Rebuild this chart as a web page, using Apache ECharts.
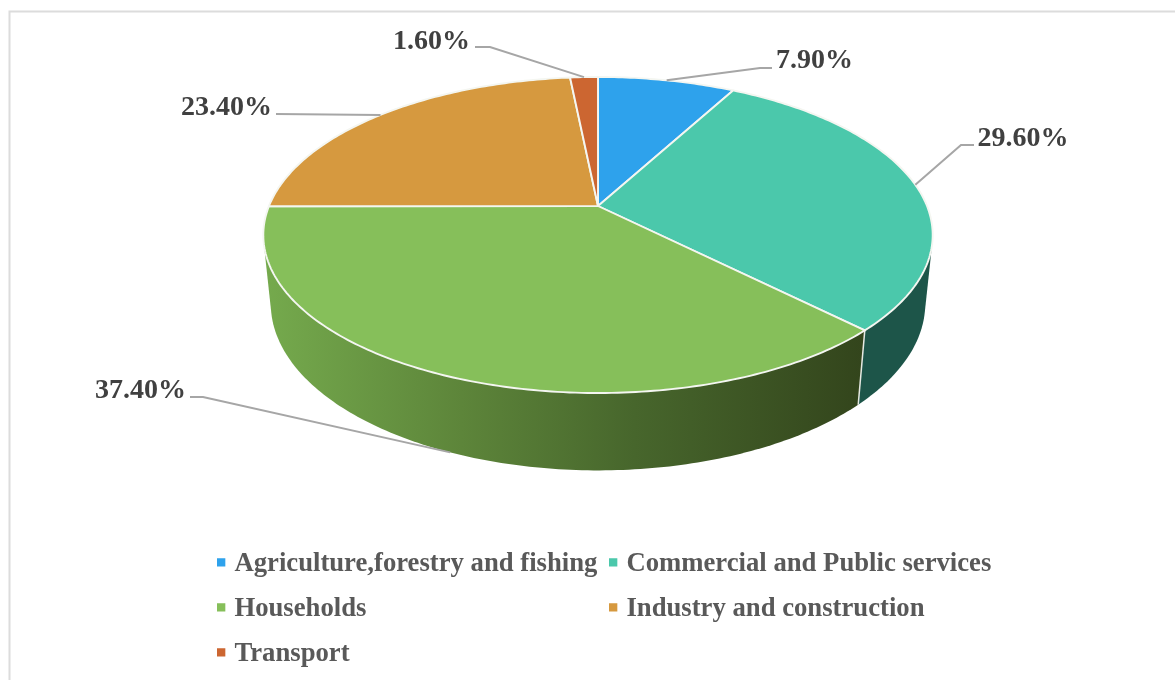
<!DOCTYPE html>
<html>
<head>
<meta charset="utf-8">
<style>html,body{margin:0;padding:0;background:#fff}#c{width:1175px;height:680px}</style>
<script src="https://cdn.jsdelivr.net/npm/echarts@6/dist/echarts.min.js"></script>
</head>
<body>
<div id="c"></div>
<script>
const categories = ['Agriculture,forestry and fishing', 'Commercial and Public services', 'Households', 'Industry and construction', 'Transport'];
const shares = [7.9, 29.6, 37.4, 23.4, 1.6];

const topColors = ['#2ea2ec', '#4bc8ab', '#86bf5a', '#d6993f', '#cc6631'];
const sideColors = ['#1a5f8e', '#1d5549', null, '#805b25', '#7a3d1d'];

// perspective model of the disc
const cx = 598, cy = 206, R = 329, S = 152.7, P = 0.1835, H = 69, Q = 0.022;
// leader layout: elbow and end of each leader line, label centre
const leaders = [
  { end: [772, 68], elbow: [760, 68], text: [814.5, 61] },
  { end: [974, 145], elbow: [961, 145], text: [1023, 139] },
  { end: [190, 397], elbow: [203, 397], text: [140.5, 391] },
  { end: [276, 114], elbow: [276, 114], text: [226.5, 108] },
  { end: [475, 47], elbow: [490, 47], text: [431.5, 42] }
];
const frontLeader = [false, false, true, false, false];

const total = shares.reduce((a, b) => a + b, 0);
const cum = [0];
shares.forEach((v, i) => cum.push(cum[i] + v));
const ang = f => f / total * Math.PI * 2;

function rim(theta, low) {
  const u = Math.sin(theta), v = -Math.cos(theta);
  const w = 1 - P * v + (low ? Q : 0);
  return [cx + R * u / w, cy + (S * v + (low ? H : 0)) / w];
}
function arcPts(a0, a1, low) {
  const n = Math.max(2, Math.ceil((a1 - a0) / 0.015));
  const pts = [];
  for (let i = 0; i <= n; i++) pts.push(rim(a0 + (a1 - a0) * i / n, low));
  return pts;
}
function hull(points) {
  const p = points.slice().sort((a, b) => a[0] - b[0] || a[1] - b[1]);
  const cross = (o, a, b) => (a[0] - o[0]) * (b[1] - o[1]) - (a[1] - o[1]) * (b[0] - o[0]);
  const half = list => {
    const out = [];
    list.forEach(q => {
      while (out.length > 1 && cross(out[out.length - 2], out[out.length - 1], q) <= 0) out.pop();
      out.push(q);
    });
    out.pop();
    return out;
  };
  return half(p).concat(half(p.slice().reverse()));
}

function renderWall(params) {
  const i = params.dataIndex;
  const a0 = ang(cum[i]), a1 = ang(cum[i + 1]);
  const fill = sideColors[i] || new echarts.graphic.LinearGradient(264, 0, 862, 0, [
    { offset: 0, color: '#75aa4d' },
    { offset: 0.33, color: '#5d853a' },
    { offset: 0.62, color: '#47662c' },
    { offset: 1, color: '#33451c' }
  ], true);
  const children = [{ type: 'polygon', shape: { points: hull(arcPts(a0, a1, false).concat(arcPts(a0, a1, true))) },
    style: { fill: fill } }];
  if (-Math.cos(a1) > 0.1) {
    const p = rim(a1, false), q = rim(a1, true);
    children.push({ type: 'line', z2: 2, shape: { x1: p[0], y1: p[1], x2: q[0], y2: q[1] }, style: { stroke: '#e6e9e2', lineWidth: 1.5 } });
  }
  return { type: 'group', children: children };
}

function renderTop(i) {
  return function () {
    const a0 = ang(cum[i]), a1 = ang(cum[i + 1]);
    const mid = (a0 + a1) / 2, L = leaders[i];
    const start = rim(mid, frontLeader[i]);
    return {
      type: 'group',
      children: [
        { type: 'polygon', shape: { points: [[cx, cy]].concat(arcPts(a0, a1, false)) },
          style: { fill: topColors[i], stroke: '#f4f6f1', lineWidth: 1.9, lineJoin: 'round' } },
        { type: 'polyline', z2: 5, shape: { points: [start, L.elbow, L.end] },
          style: { fill: null, stroke: '#a6a6a6', lineWidth: 2 } },
        { type: 'text', z2: 6, x: L.text[0], y: L.text[1],
          style: { text: shares[i].toFixed(2) + '%', fill: '#404040', align: 'center', verticalAlign: 'middle',
            fontFamily: 'Liberation Serif', fontWeight: 'bold', fontSize: 28 } }
      ]
    };
  };
}

const legendText = { fontFamily: 'Liberation Serif', fontWeight: 'bold', fontSize: 26.7, color: '#595959', padding: [0, 0, 0, 4] };
const legendIcon = 'path://M0,0L8,0L8,8L0,8Z M0,12L0.001,12';

const series = [{
  type: 'custom', name: 'side walls', coordinateSystem: 'none', z: 1, silent: true,
  data: shares, renderItem: renderWall
}];
categories.forEach((name, i) => {
  series.push({
    type: 'custom', name: name, coordinateSystem: 'none', z: 2 + (i === 4 ? 1 : 0), silent: true,
    itemStyle: { color: topColors[i] },
    data: [shares[i]], renderItem: renderTop(i)
  });
});

const chart = echarts.init(document.getElementById('c'));
chart.setOption({
  animation: false,
  backgroundColor: '#ffffff',
  tooltip: { show: false },
  graphic: [{ type: 'rect', silent: true, shape: { x: 9.5, y: 11.5, width: 1300, height: 800 },
    style: { fill: null, stroke: '#dcdcdc', lineWidth: 2 } }],
  legend: [
    { orient: 'vertical', left: 212, top: 546, itemWidth: 8.5, itemHeight: 12.5, itemGap: 18, icon: legendIcon,
      selectedMode: false, textStyle: legendText, data: [categories[0], categories[2], categories[4]] },
    { orient: 'vertical', left: 604, top: 546, itemWidth: 8.5, itemHeight: 12.5, itemGap: 18, icon: legendIcon,
      selectedMode: false, textStyle: legendText, data: [categories[1], categories[3]] }
  ],
  series: series
});
</script>
</body>
</html>
